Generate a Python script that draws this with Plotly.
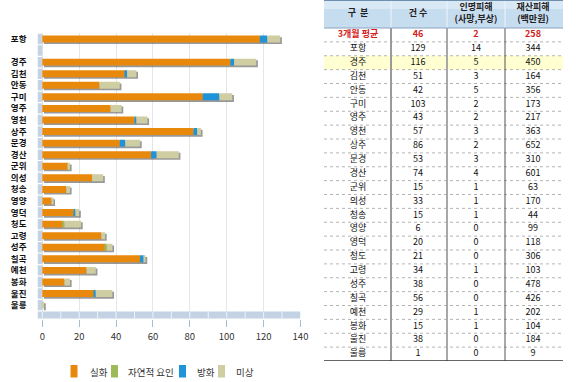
import plotly.graph_objects as go

# ---------------- data ----------------
regions = ["포항", "경주", "김천", "안동", "구미", "영주", "영천", "상주", "문경", "경산", "군위",
           "의성", "청송", "영양", "영덕", "청도", "고령", "성주", "칠곡", "예천", "봉화", "울진", "울릉"]
counts = [129, 116, 51, 42, 103, 43, 57, 86, 53, 74, 15, 33, 15, 6, 20, 21, 34, 38, 56, 29, 15, 38, 1]
casualties = [14, 5, 3, 5, 2, 2, 3, 2, 3, 4, 1, 1, 1, 0, 0, 0, 1, 0, 0, 1, 1, 0, 0]
damage = [344, 450, 164, 356, 173, 217, 363, 652, 310, 601, 63, 170, 44, 99, 118, 306, 103, 478, 426, 202, 104, 184, 9]

avg_label = "3개월 평균"
avg_values = ["46", "2", "258"]
header_labels = ["구  분", "건 수", "인명피해<br>(사망,부상)", "재산피해<br>(백만원)"]
highlight_region = "경주"

cause_names = ["실화", "자연적 요인", "방화", "미상"]
accidental = [118, 102, 45, 31, 87, 37, 50, 82, 42, 59, 14, 27, 13, 5, 17, 11, 32, 34, 53, 24, 12, 28, 0]
natural = [0, 0, 0, 0, 0, 0, 0, 0, 0, 0, 0, 0, 0, 0, 0, 1, 0, 1, 0, 0, 0, 0, 0]
arson = [4, 2, 1, 0, 9, 0, 1, 2, 3, 3, 0, 0, 0, 0, 1, 0, 0, 0, 2, 0, 0, 1, 0]
unknown = [7, 12, 5, 11, 7, 6, 6, 2, 8, 12, 1, 6, 2, 1, 2, 9, 2, 3, 1, 5, 3, 9, 1]
x_ticks = [0, 20, 40, 60, 80, 100, 120, 140]

# ---------------- styles ----------------
W, H = 580, 382
def px(x):
    return x / W
def py(y):
    return 1 - y / H

cause_colors = ["#E8890C", "#9BBB59", "#1F93D8", "#CFCDA2"]
wall_color = "#C3D3E3"
FONT = "Noto Sans CJK KR"

# chart row positions: blank row after the first region
pos = [0] + [k + 1 for k in range(1, len(regions))]
n_rows = len(regions) + 1
bar_w = 0.6

fig = go.Figure()

# left wall segments
fig.add_trace(go.Bar(
    y=list(range(n_rows)), x=[2.6] * n_rows, base=[-2.6] * n_rows, orientation="h",
    width=0.9, marker=dict(color=wall_color, line=dict(width=0)),
    showlegend=False, hoverinfo="skip"))

# shadow
fig.add_trace(go.Bar(
    y=pos, x=counts, base=[0.9] * len(counts), orientation="h",
    width=bar_w, offset=-bar_w / 2 + 0.14,
    marker=dict(color="rgba(85,85,85,0.6)", line=dict(width=0)),
    showlegend=False, hoverinfo="skip"))

series = [accidental, natural, arson, unknown]
cum = [0] * len(regions)
for name, vals, col in zip(cause_names, series, cause_colors):
    fig.add_trace(go.Bar(
        y=pos, x=vals, base=list(cum), orientation="h", name=name,
        width=bar_w, marker=dict(color=col, line=dict(width=0)), showlegend=False))
    cum = [c + v for c, v in zip(cum, vals)]

# ---------------- table ----------------
col_x = [358, 418, 476, 533]
head_h = 28
row_h = 13.875
def row_y(i):
    return head_h + row_h * (i + 0.5)

tbl_font = dict(family=FONT, size=9, color="#111111")
fig.add_trace(go.Scatter(
    x=col_x, y=[14] * 4, text=header_labels, mode="text", xaxis="x2", yaxis="y2",
    textfont=dict(family=FONT, size=9, color="#222222", weight="bold"),
    showlegend=False, hoverinfo="skip"))
fig.add_trace(go.Scatter(
    x=col_x, y=[row_y(0)] * 4, text=[avg_label] + avg_values, mode="text",
    xaxis="x2", yaxis="y2",
    textfont=dict(family=FONT, size=9, color="#D42020", weight="bold"),
    showlegend=False, hoverinfo="skip"))
ys = [row_y(i + 1) for i in range(len(regions))]
for cx, col_vals in zip(col_x, [regions, counts, casualties, damage]):
    fig.add_trace(go.Scatter(
        x=[cx] * len(col_vals), y=ys, text=[str(v) for v in col_vals], mode="text",
        xaxis="x2", yaxis="y2", textfont=tbl_font,
        showlegend=False, hoverinfo="skip"))

shapes = []
annotations = []
tx0, tx1 = 324, 563
t_bottom = head_h + row_h * (len(regions) + 1)
# header background
shapes.append(dict(type="rect", xref="x2", yref="y2", x0=tx0, x1=tx1, y0=0, y1=head_h,
                   fillcolor="#C6DCEF", line=dict(width=0), layer="below"))
shapes.append(dict(type="rect", xref="x2", yref="y2", x0=tx0, x1=tx1, y0=0, y1=9,
                   fillcolor="#D9E8F5", line=dict(width=0), layer="below"))
# highlight row
hi = regions.index(highlight_region) + 1
shapes.append(dict(type="rect", xref="x2", yref="y2", x0=tx0, x1=tx1,
                   y0=head_h + row_h * hi, y1=head_h + row_h * (hi + 1),
                   fillcolor="#FFFFD2", line=dict(width=0), layer="below"))
# row separators
for i in range(1, len(regions) + 1):
    yy = head_h + row_h * i
    shapes.append(dict(type="line", xref="x2", yref="y2", x0=tx0, x1=tx1, y0=yy, y1=yy,
                       line=dict(color="#B4B4B4", width=1, dash="dot")))
# column dividers
for xx, colr, wd in [(391, "#9A9A9A", 2), (447, "#A8A8A8", 2), (505, "#555555", 1)]:
    shapes.append(dict(type="line", xref="x2", yref="y2", x0=xx, x1=xx, y0=head_h, y1=t_bottom,
                       line=dict(color=colr, width=wd)))
    shapes.append(dict(type="line", xref="x2", yref="y2", x0=xx, x1=xx, y0=0, y1=head_h,
                       line=dict(color="#EEF5FB", width=1)))
# header lines
shapes.append(dict(type="line", xref="x2", yref="y2", x0=tx0, x1=tx1, y0=0.5, y1=0.5,
                   line=dict(color="#6F8FAE", width=1)))
shapes.append(dict(type="line", xref="x2", yref="y2", x0=tx0, x1=tx1, y0=head_h, y1=head_h,
                   line=dict(color="#8AA6C2", width=1)))
shapes.append(dict(type="line", xref="x2", yref="y2", x0=tx0, x1=tx1, y0=t_bottom, y1=t_bottom,
                   line=dict(color="#333333", width=1.5)))

# chart floor
shapes.append(dict(type="rect", xref="x", yref="paper", x0=-2.6, x1=140,
                   y0=py(318.5), y1=py(311.5), fillcolor=wall_color, line=dict(width=0)))
for v in range(0, 141, 10):
    shapes.append(dict(type="line", xref="x", yref="paper", x0=v, x1=v,
                       y0=py(318.5), y1=py(311.5), line=dict(color="#EEF3F8", width=1)))

# legend (swatches + labels)
legend_swatch_x = [70.5, 111, 179, 218]
legend_text_x = [88, 126, 195, 234]
for name, col, sx, tx in zip(cause_names, cause_colors, legend_swatch_x, legend_text_x):
    shapes.append(dict(type="rect", xref="paper", yref="paper", x0=px(sx), x1=px(sx + 7),
                       y0=py(377.5), y1=py(365), fillcolor=col, line=dict(width=0)))
    annotations.append(dict(text=name, xref="paper", yref="paper", x=px(tx), y=py(371.5),
                            xanchor="left", yanchor="middle", showarrow=False,
                            font=dict(family=FONT, size=9.5, color="#333333")))

fig.update_layout(
    width=W, height=H, margin=dict(l=0, r=0, t=0, b=0, autoexpand=False),
    paper_bgcolor="white", plot_bgcolor="white",
    barmode="overlay", bargap=0.4, showlegend=False,
    font=dict(family=FONT, size=10, color="#222222"),
    shapes=shapes, annotations=annotations,
    xaxis=dict(domain=[px(37.5), px(300.5)], range=[-2.6, 140], tickvals=x_ticks,
               showgrid=True, gridcolor="#E6E6E6", gridwidth=1, zeroline=False,
               showline=False, ticks="outside", ticklen=7, tickcolor="#A9BDD2",
               ticklabelstandoff=2, automargin=False,
               tickfont=dict(family=FONT, size=9.5, color="#333333"), fixedrange=True),
    yaxis=dict(domain=[py(319), py(33.2)], range=[24.2, -0.5], tickvals=pos,
               ticktext=regions, showgrid=False, zeroline=False, showline=False,
               ticks="", ticklabelstandoff=10, automargin=False,
               tickfont=dict(family=FONT, size=8.5, color="#111111", weight="bold"),
               fixedrange=True),
    xaxis2=dict(domain=[px(324), px(563)], range=[324, 563], visible=False,
                anchor="y2", fixedrange=True),
    yaxis2=dict(domain=[py(361), 1], range=[361, 0], visible=False,
                anchor="x2", fixedrange=True),
)

fig.write_html("out.html", config={"displayModeBar": False},
               post_script="document.body.style.margin='0';document.body.style.overflow='hidden';")
